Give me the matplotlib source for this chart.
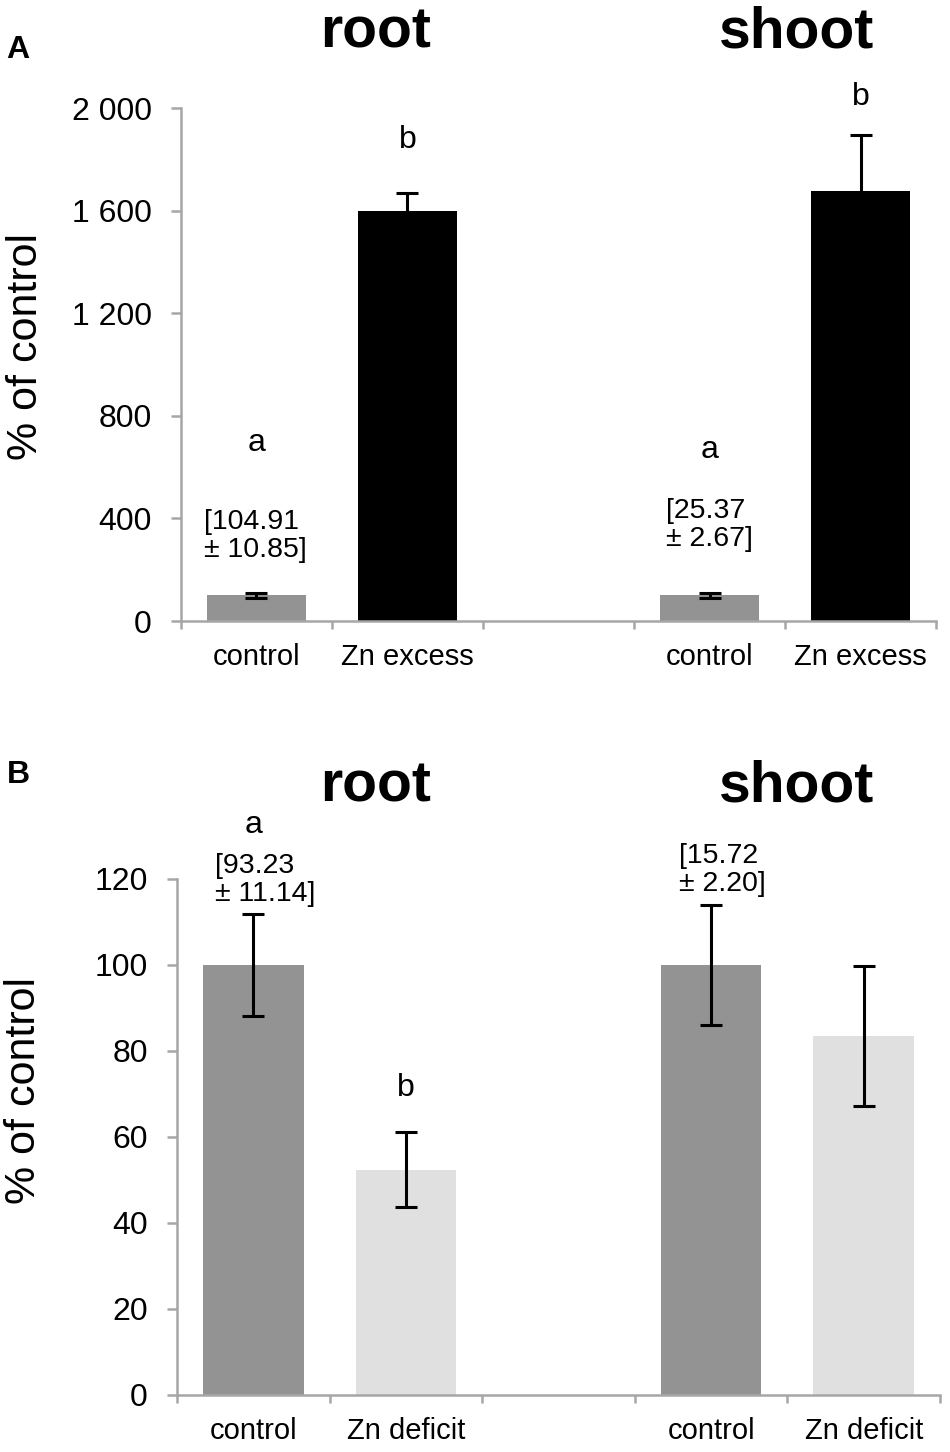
import numpy as np
import matplotlib
matplotlib.use('Agg')
import matplotlib.pyplot as plt

plt.rcParams['font.family'] = ['Liberation Sans', 'DejaVu Sans']

#------------------------------------------------------------------------------
# data

x_pos = [0, 1, 3, 4]          # slot 2 is the empty gap between root and shoot
groups = ['root', 'shoot']

# panel A : Zn excess
a_labels = ['control', 'Zn excess', 'control', 'Zn excess']
a_values = [100, 1598, 100, 1678]
a_errors = [10.3, 72, 10.5, 215]
a_colors = ['#939393', '#000000', '#939393', '#000000']
a_letters = ['a', 'b', 'a', 'b']
a_letter_y = [694, 1875, 667, 2043]
a_notes = ['[104.91\n± 10.85]', '', '[25.37\n± 2.67]', '']
a_note_y = [331, 0, 374, 0]
a_note_dx = [-0.35, 0, -0.29, 0]
a_yticks = [0, 400, 800, 1200, 1600, 2000]
a_yticklabels = ['0', '400', '800', '1 200', '1 600', '2 000']

# panel B : Zn deficit
b_labels = ['control', 'Zn deficit', 'control', 'Zn deficit']
b_values = [100, 52.4, 100, 83.4]
b_errors = [11.9, 8.8, 14.0, 16.3]
b_colors = ['#939393', '#e0e0e0', '#939393', '#e0e0e0']
b_letters = ['a', 'b', '', '']
b_letter_y = [132.6, 71.4, 0, 0]
b_notes = ['[93.23\n± 11.14]', '', '[15.72\n± 2.20]', '']
b_note_y = [119.8, 0, 122.1, 0]
b_note_dx = [-0.25, 0, -0.21, 0]
b_yticks = [0, 20, 40, 60, 80, 100, 120]
b_yticklabels = [str(t) for t in b_yticks]

#------------------------------------------------------------------------------

axis_grey = '#a6a6a6'


def draw_panel(ax, labels, values, errors, colors, letters, letter_y,
               notes, note_y, note_dx, yticks, yticklabels):

    ax.bar(x_pos, values, width=0.66, color=colors, zorder=2)
    ax.errorbar(x_pos, values, yerr=errors, fmt='none', ecolor='black',
                elinewidth=2.2, capsize=8, capthick=2.2, zorder=3)

    for xx, lt, ly in zip(x_pos, letters, letter_y):
        if lt:
            ax.text(xx, ly, lt, ha='center', va='center', fontsize=23,
                    clip_on=False)

    for xx, nt, ny, dx in zip(x_pos, notes, note_y, note_dx):
        if nt:
            ax.text(xx + dx, ny, nt, ha='left', va='center', fontsize=20.5,
                    linespacing=1.1, clip_on=False)

    ax.set_xlim(-0.5, 4.5)
    ax.set_ylim(yticks[0], yticks[-1])

    ax.set_xticks(x_pos)
    ax.set_xticklabels(labels, fontsize=21)
    ax.set_xticks(np.arange(-0.5, 5, 1.0), minor=True)
    ax.tick_params(axis='x', which='major', length=0, pad=16)
    ax.tick_params(axis='x', which='minor', length=6, width=1.8,
                   color=axis_grey, direction='out')

    ax.set_yticks(yticks)
    ax.set_yticklabels(yticklabels, fontsize=23)
    ax.tick_params(axis='y', length=7, width=1.8, color=axis_grey, pad=14)

    for side in ['top', 'right']:
        ax.spines[side].set_visible(False)
    for side in ['left', 'bottom']:
        ax.spines[side].set_color(axis_grey)
        ax.spines[side].set_linewidth(1.8)

    ax.set_ylabel('% of control', fontsize=31, va='center')


fig = plt.figure(figsize=(9.5, 14.52), dpi=100)

axA = fig.add_axes([0.1905, 0.5723, 0.7948, 0.3533])
draw_panel(axA, a_labels, a_values, a_errors, a_colors, a_letters,
           a_letter_y, a_notes, a_note_y, a_note_dx, a_yticks, a_yticklabels)
axA.yaxis.set_label_coords(-0.205, 0.535)

axB = fig.add_axes([0.1863, 0.0393, 0.8032, 0.3554])
draw_panel(axB, b_labels, b_values, b_errors, b_colors, b_letters,
           b_letter_y, b_notes, b_note_y, b_note_dx, b_yticks, b_yticklabels)
axB.yaxis.set_label_coords(-0.20, 0.59)

#-- group titles and panel letters --
for gx, gname in zip([0.395, 0.839], groups):
    fig.text(gx, 0.9676, gname, ha='center', va='baseline', fontsize=41,
             fontweight='bold')
    fig.text(gx, 0.4483, gname, ha='center', va='baseline', fontsize=41,
             fontweight='bold')

fig.text(0.007, 0.960, 'A', ha='left', va='baseline', fontsize=23,
         fontweight='bold')
fig.text(0.007, 0.4607, 'B', ha='left', va='baseline', fontsize=23,
         fontweight='bold')

fig.savefig('out.png', dpi=100)
